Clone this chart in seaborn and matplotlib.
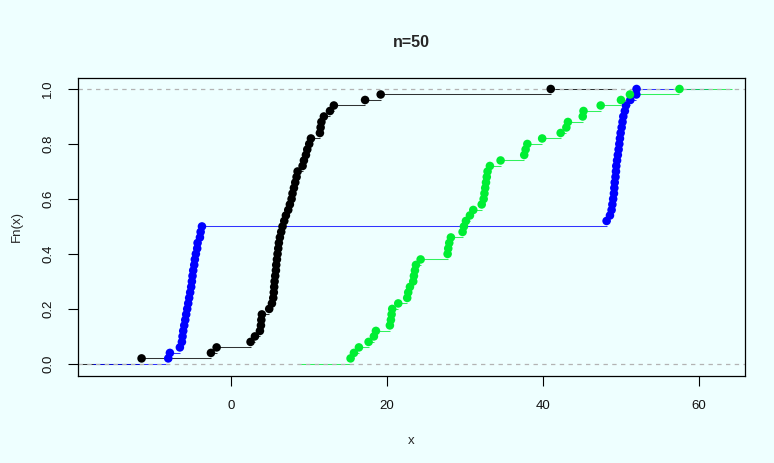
import numpy as np
import pandas as pd
import matplotlib
matplotlib.use("Agg")
import matplotlib.pyplot as plt
import seaborn as sns

# ---- data ----
black_x = [-11.45, -2.56, -1.83, 2.52, 3.08, 3.72, 3.85, 3.90, 3.97, 4.91,
           5.26, 5.43, 5.50, 5.55, 5.60, 5.68, 5.77, 5.81, 5.90, 5.98,
           6.07, 6.15, 6.28, 6.45, 6.62, 6.84, 7.05, 7.35, 7.56, 7.78,
           7.90, 8.08, 8.25, 8.42, 8.55, 9.19, 9.36, 9.62, 9.79, 10.04,
           10.26, 11.41, 11.50, 11.60, 11.92, 12.70, 13.20, 17.20, 19.20, 41.00]
blue_x = [-8.03, -7.82, -6.54, -6.28, -6.20, -6.11, -5.98, -5.85, -5.73, -5.60,
          -5.47, -5.35, -5.22, -5.09, -5.00, -4.92, -4.83, -4.70, -4.62, -4.49,
          -4.32, -4.27, -3.97, -3.88, -3.71, 48.16, 48.59, 48.80, 48.90, 49.00,
          49.10, 49.15, 49.20, 49.30, 49.36, 49.40, 49.50, 49.60, 49.70, 49.79,
          49.87, 49.96, 50.09, 50.20, 50.30, 50.50, 50.64, 51.20, 51.97, 52.00]
green_x = [15.34, 15.77, 16.41, 17.65, 18.33, 18.59, 20.38, 20.51, 20.60, 20.68,
           21.45, 22.60, 22.73, 22.95, 23.37, 23.46, 23.59, 23.72, 24.32, 27.78,
           27.86, 27.99, 28.20, 29.70, 29.87, 30.13, 30.64, 31.07, 32.15, 32.40,
           32.50, 32.60, 32.70, 32.80, 32.90, 33.20, 34.57, 37.60, 37.78, 38.00,
           39.90, 42.27, 43.00, 43.20, 45.10, 45.20, 47.40, 50.00, 51.15, 57.50]

series_names = ["black", "blue", "green"]
series_values = [black_x, blue_x, green_x]
series_colors = ["#000000", "#0000FF", "#00EE33"]
x_ticks = [0, 20, 40, 60]
y_ticks = [0.0, 0.2, 0.4, 0.6, 0.8, 1.0]
title = "n=50"
x_label = "x"
y_label = "Fn(x)"

# ---- build table ----
rows = []
for name, vals in zip(series_names, series_values):
    v = np.sort(np.asarray(vals, dtype=float))
    n = len(v)
    for i, xv in enumerate(v):
        rows.append({"series": name, "x": xv, "Fn": (i + 1) / n})
df = pd.DataFrame(rows)

bg = "#EEFFFF"
sns.set_theme(style="white")
plt.rcParams['font.family'] = ['Liberation Sans', 'DejaVu Sans']

fig = plt.figure(figsize=(7.74, 4.63), dpi=100, facecolor=bg)
ax = fig.add_axes([78 / 774, 1 - 376 / 463, (745 - 78) / 774, (376 - 78) / 463])
ax.set_facecolor(bg)

xlim = (-19.6, 65.9)

# horizontal step segments (R plot.ecdf style, no verticals)
for name, col in zip(series_names, series_colors):
    d = df[df["series"] == name].sort_values("x")
    xs = d["x"].to_numpy()
    ys = d["Fn"].to_numpy()
    rx = xs.max() - xs.min()
    dr = max(0.08 * rx, np.median(np.diff(xs)))
    ti = np.concatenate([[xs.min() - 2 * dr], xs, [xs.max() + 2 * dr]])
    yv = np.concatenate([[0.0], ys])
    ax.hlines(yv, ti[:-1], ti[1:], colors=col, linewidth=0.75, alpha=0.8, zorder=2)

for yy in (0, 1):
    ax.axhline(yy, color="#B3B3B3", linestyle=(0, (3.5, 3.5)), linewidth=0.9, zorder=2.5)

sns.scatterplot(data=df, x="x", y="Fn", hue="series", hue_order=series_names,
                palette=dict(zip(series_names, series_colors)), s=38, linewidth=0,
                legend=False, ax=ax, zorder=3)

ax.set_xlim(*xlim)
ax.set_ylim(-0.044, 1.04)
ax.set_xticks(x_ticks)
ax.set_xticklabels([str(t) for t in x_ticks])
ax.set_yticks(y_ticks)
ax.set_yticklabels([f"{t:.1f}" for t in y_ticks], rotation=90, va="center", ha="right")
ax.tick_params(axis="both", direction="out", length=7, width=0.8, color="black",
               labelsize=9.5, labelcolor="#111111", bottom=True, left=True)
ax.tick_params(axis="x", pad=10)
ax.tick_params(axis="y", pad=10)
for sp in ax.spines.values():
    sp.set_color("black")
    sp.set_linewidth(0.9)
    sp.set_visible(True)

ax.set_xlabel(x_label, fontsize=9.5, labelpad=17)
ax.set_ylabel(y_label, fontsize=9.5, labelpad=14)
ax.set_title(title, fontsize=11.5, fontweight="bold", pad=22)

fig.savefig("out.png", dpi=100, facecolor=bg)
